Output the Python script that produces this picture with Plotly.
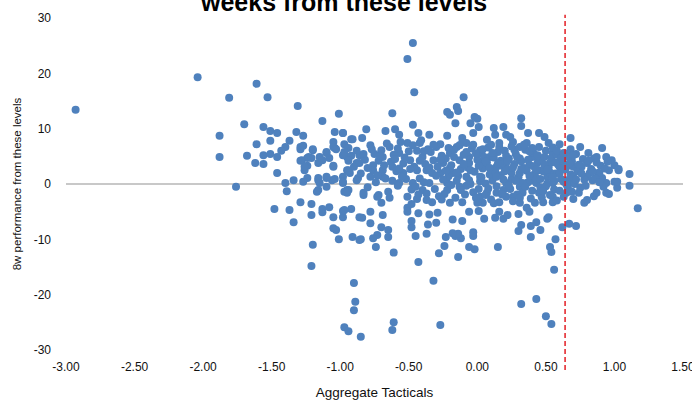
import plotly.graph_objects as go

# ---- data: (Aggregate Tacticals, 8w performance) ----
x_left = [-2.93, -2.04, -1.81, -1.88, -1.88, -1.76, -1.70, -1.61, -1.53, -1.56, -1.51, -1.46, -1.61, -1.51,
          -1.68, -1.62, -1.56, -1.56, -1.51, -1.46, -1.46, -1.31, -1.13, -1.01, -1.32, -1.27, -1.37, -1.40,
          -1.43, -1.20, -1.29, -1.28, -1.24, -1.24, -1.26, -1.24, -1.34, -1.40, -1.16, -1.15, -1.10, -1.04,
          -1.04, -0.98, -1.05, -1.13, -1.05, -1.16, -1.10, -1.06, -0.98, -0.95, -1.29, -1.27, -1.29, -1.23,
          -1.21, -1.26, -1.27, -1.20, -1.10, -1.08, -1.05, -1.03, -0.97, -0.92, -0.94, -0.98, -0.92, -0.94,
          -0.95, -0.93, -0.88, -0.87, -1.05, -1.04, -1.10, -1.16, -1.15, -1.16, -1.10, -0.98, -0.97, -0.94]
y_left = [13.4, 19.3, 15.6, 8.7, 4.9, -0.5, 10.8, 18.1, 15.7, 10.3, 9.6, 9.2, 7.2, 7.8,
          5.1, 3.8, 3.6, 5.2, 5.4, 4.9, 2.0, 14.1, 11.4, 12.7, 9.4, 8.7, 7.8, 6.7,
          6.0, 6.1, 6.3, 4.3, 3.3, 4.7, 2.5, 1.1, 0.7, 0.2, 3.8, 4.9, 5.8, 6.5,
          9.4, 9.2, 7.6, 4.3, 3.3, 0.7, 1.1, 0.7, 1.3, 4.9, 6.7, 6.9, 4.2, 4.9,
          4.7, 3.1, 0.4, 6.3, 5.6, 4.7, 6.7, 6.3, 7.2, 8.1, 6.5, 5.2, 5.1, 4.2,
          2.5, 2.0, 3.8, 1.1, 3.1, 0.9, 1.3, 1.1, 0.2, -1.1, -0.5, 0.2, -1.4, -1.1]

x_low = [-1.39, -1.48, -1.37, -1.34, -1.29, -1.21, -1.21, -1.20, -1.21, -1.17, -1.13, -1.13, -1.08, -1.05,
         -0.98, -1.05, -1.03, -1.01, -0.98, -0.92, -0.91, -0.95, -0.86, -0.86, -0.90, -0.89, -0.90, -0.97,
         -0.94, -0.85, -0.61, -0.62, -0.27, -0.32, -0.43, -0.61, -0.74, -0.28, -0.14, -0.24, -0.06, -0.02,
         0.15, 0.32, 0.43, 0.50, 0.54, 0.56, 0.54, 0.53, 0.57, 0.62, 0.67, 0.72, 1.17, 1.11, 1.11,
         0.39, 0.46, 0.30, 0.32, 0.39, 0.43, 0.51, 0.52, 0.13, 0.19, 0.30, 0.05, -0.03, -0.03, -0.12,
         -0.16, -0.14, -0.18, -0.23, -0.37, -0.45, -0.48, -0.48, -0.65, -0.65, -0.70, -0.73, -0.76, -0.85,
         -0.78, -0.84, -0.97, -0.78, -0.69, -0.51, -0.51, -0.43, -0.35, -0.29, -0.36, -0.30, -0.18, -0.11,
         -0.06, 0.01, 0.04, 0.00, -0.11, -0.20, -0.33, -0.44, -0.48, -0.64, -0.72, -0.83, -0.70, -0.22,
         0.16, 0.22, 0.38, 0.07, 0.21, 0.31, 0.36, 0.48, 0.55, 0.70, 0.78, 0.80, 0.85, 0.87, 0.75, 0.65,
         0.94, 0.96, 1.02, 1.00, 0.94, 0.91, 0.84, 0.82, 0.88, 1.03, 0.67]
y_low = [-1.3, -4.5, -4.7, -6.9, -3.3, -3.6, -5.6, -11.0, -14.8, -1.4, -5.1, -4.5, -4.2, -6.0,
         -6.0, -8.0, -8.3, -10.0, -4.9, -4.5, -9.6, -1.1, -10.1, -6.0, -17.9, -21.3, -22.8, -25.9,
         -26.6, -27.6, -25.0, -26.4, -25.5, -17.5, -14.1, -12.4, -11.4, -12.5, -13.2, -11.2, -11.4, -11.8,
         -11.4, -21.7, -20.8, -23.9, -25.3, -15.5, -12.3, -11.4, -10.0, -7.8, -7.2, -7.6, -4.4, -0.3, 1.8,
         -9.6, -8.3, -8.5, -7.4, -7.6, -6.9, -6.3, -6.0, -6.1, -6.3, -5.4, -6.3, -9.4, -8.7, -9.8,
         -9.4, -9.0, -8.9, -9.6, -9.0, -9.4, -7.8, -6.7, -9.6, -8.3, -7.8, -9.2, -9.8, -10.0,
         -7.1, -6.1, -4.7, -5.0, -5.6, -4.3, -5.0, -5.3, -5.5, -5.2, -7.3, -7.0, -6.4, -6.7,
         -5.0, -4.9, -3.4, -3.4, -3.3, -3.4, -3.3, -2.7, -3.6, -2.5, -2.0, -2.0, -3.4, -1.1,
         -5.0, -5.6, -5.0, -1.6, -2.3, -3.4, -4.3, -3.3, -3.3, -2.7, -3.4, -2.9, -2.2, -1.6, -0.7, -1.6,
         -1.6, -1.8, -0.7, 0.4, 0.2, 1.1, 0.7, 2.0, 2.0, 2.5, 0.2]

x_up = [-0.47, -0.51, -0.46, -0.10, -0.15, -0.14, -0.22, -0.20, -0.62, -0.47, -0.16, -0.02, 0.00, -0.05,
        0.01, 0.32, 0.32, 0.12, 0.19, 0.13, 0.21, 0.24, 0.37, 0.45, 0.49, 0.60, 0.68, 0.75, 0.81, 0.91,
        0.94, 0.87, 1.00, 1.03, 1.02, 0.89, 0.80, 0.76, 0.70, -0.81, -0.84, -0.91, -0.98, -0.67, -0.60,
        -0.57, -0.43, -0.35, -0.27, -0.22, -0.11, -0.03, 0.07, -0.64, -0.51, -0.42, -0.75, -0.86, -0.97,
        -0.94, -0.86, -0.76, -0.69, -0.62, -0.54, -0.49, -0.69, -0.57, -0.30, -0.15, -0.08, 0.02, 0.16,
        0.26, 0.31, 0.36, 0.45, 0.55, 0.67, 0.60, 0.53, 0.45, 0.40, 0.51, 0.40, 0.31, 0.21, 0.14, 0.09,
        0.02, -0.06, -0.13, -0.20, -0.25, -0.32, -0.40, -0.37, -0.44, -0.27, -0.18, -0.08, 0.02, 0.11,
        0.21, 0.31, 0.43, 0.55, 0.65, -0.13, -0.22, -0.35, -0.47, -0.57, -0.69, -0.78, -0.88, -0.98,
        -0.95, -0.83, -0.73, -0.51, -0.37, 0.02, 0.14, 0.26, 0.45, 0.55]
y_up = [25.5, 22.6, 16.6, 15.7, 13.9, 13.2, 13.0, 12.5, 12.8, 10.7, 11.0, 12.1, 11.8, 11.0,
        10.3, 11.9, 10.5, 10.1, 10.3, 8.9, 8.9, 8.5, 9.2, 9.2, 8.5, 7.2, 8.3, 6.7, 5.6, 6.5,
        4.9, 4.9, 3.4, 2.7, 0.4, 2.0, 1.3, 3.1, 3.1, 9.9, 8.3, 8.1, 9.2, 9.6, 9.9,
        8.9, 9.2, 8.9, 7.2, 8.7, 8.3, 9.2, 8.0, 6.7, 7.4, 7.4, 5.4, 5.2, 5.8,
        2.5, 3.8, 3.4, 2.5, 3.1, 2.0, 4.3, 4.9, 5.6, 6.7, 6.7, 7.4, 6.1, 6.7,
        7.6, 6.7, 7.4, 6.7, 5.6, 5.6, 3.1, 3.8, 2.5, 4.9, 1.3, 0.7, 2.0, 3.8, 3.1, 4.9,
        3.8, 4.9, 4.3, 5.6, 3.8, 4.3, 4.9, 2.5, 2.5, 2.0, 2.0, 1.3, 1.3, 0.7,
        0.2, -0.5, 0.2, 0.2, 0.7, -0.5, 0.2, 0.2, 0.2, 0.2, 1.3, 1.3, 0.7, 0.4,
        -1.6, -1.6, -2.3, -2.3, -2.9, -2.3, -1.6, -2.3, -1.6, -2.3]

x_core = [-0.42, -0.38, -0.34, -0.31, -0.29, -0.26, -0.24, -0.21, -0.19, -0.17, -0.15, -0.12, -0.10, -0.09,
          -0.07, -0.05, -0.04, -0.02, 0.00, 0.01, 0.03, 0.04, 0.06, 0.07, 0.08, 0.10, 0.11, 0.12, 0.14,
          0.15, 0.17, 0.18, 0.19, 0.20, 0.22, 0.23, 0.25, 0.26, 0.27, 0.28, 0.30, 0.32, 0.33, 0.34, 0.35,
          0.37, 0.38, 0.39, 0.41, 0.42, 0.44, 0.46, 0.47, 0.48, 0.50, 0.51, 0.52, 0.54, 0.56, 0.57, 0.58,
          0.59, 0.61, 0.62, 0.63, 0.64, 0.66, 0.68, 0.69, 0.71, 0.72, 0.73, 0.74, 0.77, 0.78, 0.80, 0.83,
          0.85, 0.86, 0.90, 0.92, 0.96, 0.98,
          -0.40, -0.36, -0.33, -0.28, -0.25, -0.23, -0.20, -0.16, -0.14, -0.11, -0.08, -0.06, -0.03, -0.01,
          0.02, 0.05, 0.06, 0.09, 0.10, 0.13, 0.16, 0.17, 0.19, 0.21, 0.24, 0.25, 0.27, 0.29, 0.31, 0.33,
          0.36, 0.38, 0.40, 0.41, 0.43, 0.45, 0.47, 0.49, 0.50, 0.53, 0.55, 0.56, 0.58, 0.60, 0.61, 0.63,
          0.65, 0.66, 0.68, 0.70,
          -0.90, -0.88, -0.85, -0.82, -0.80, -0.78, -0.76, -0.74, -0.72, -0.70, -0.67, -0.65, -0.63, -0.61,
          -0.59, -0.58, -0.56, -0.54, -0.52, -0.50, -0.48, -0.46, -0.44, -0.43, -0.41, -0.39]
y_core = [1.0, 3.6, 5.8, -0.9, 3.1, 5.1, -1.8, 1.4, 3.4, 6.2, 0.6, 2.7, 5.3, -1.9,
          3.0, 0.0, 6.4, 2.2, 4.4, -0.9, 5.5, 2.8, 0.1, 3.9, 6.6, -2.8, 2.1, 4.8, -0.4,
          5.8, 1.6, 3.3, -1.1, 6.0, 2.6, 4.6, 0.9, -3.1, 3.6, 5.4, 1.2, 4.1, -1.6, 2.9, 6.2,
          0.3, 3.5, -2.6, 5.6, 1.9, 3.9, -0.6, 4.6, 2.3, 6.0, 0.1, 3.0, 4.7, -1.0, 1.9, 5.3,
          3.5, 0.9, 4.2, -2.3, 2.6, 5.0, 1.7, 4.1, 0.0, 5.4, 2.3, -1.6, 4.5, 0.8, 3.8, 2.7,
          4.6, 1.0, 3.3, -0.5, 2.5, 4.3,
          -1.1, 6.3, 2.0, -2.2, 0.8, 4.6, 2.9, -2.5, 1.5, 7.5, -0.3, 3.8, -1.5, 5.5,
          0.5, 4.9, -2.0, 1.7, 7.1, 2.4, -3.3, 4.2, 0.8, 5.1, -0.9, 2.0, 6.2, -1.9, 4.6, 0.2,
          2.4, 5.9, -1.2, 3.2, 1.0, 4.3, -2.4, 3.5, -0.4, 2.1, 6.6, 0.5, -3.0, 2.0, 4.6, 0.4,
          3.1, -0.6, 6.3, 1.2,
          3.1, 6.0, 1.9, 4.4, -0.6, 7.0, 2.5, 0.3, 4.2, 6.1, 1.0, -1.4, 4.0, 5.3,
          2.3, -0.3, 7.6, 3.7, 0.9, 5.9, -1.0, 3.1, 6.0, -1.9, 7.9, 0.3]

x_core2 = [-0.58, -0.55, -0.53, -0.49, -0.47, -0.45, -0.42, -0.39, -0.37, -0.35, -0.32, -0.30, -0.27, -0.26,
           -0.23, -0.21, -0.19, -0.17, -0.15, -0.13, -0.12, -0.10, -0.08, -0.06, -0.05, -0.03, -0.01, 0.01,
           0.03, 0.04, 0.06, 0.08, 0.09, 0.11, 0.12, 0.14, 0.15, 0.16, 0.18, 0.20, 0.22, 0.23, 0.25, 0.26,
           0.28, 0.29, 0.31, 0.32, 0.34, 0.35, 0.37, 0.38, 0.40, 0.42, 0.43, 0.44, 0.46, 0.48, 0.49, 0.51,
           0.52, 0.53, 0.55, 0.57, 0.58, 0.60, 0.62, 0.63, 0.65, 0.67, 0.69, 0.70, 0.72, 0.74, 0.76, 0.79,
           0.81, 0.84, 0.87, 0.89, 0.93, 0.95,
           -0.83, -0.80, -0.77, -0.73, -0.71, -0.68, -0.66, -0.62, -0.60, -0.57]
y_core2 = [6.4, 1.3, 4.8, 2.7, 7.0, -0.5, 4.2, 5.9, -1.7, 3.0, 7.1, 1.5, 4.4, -2.8,
           2.4, 6.5, -0.2, 4.9, 2.1, 7.0, -1.1, 3.6, 5.8, 0.7, 2.5, 7.1, -2.5, 3.3,
           1.2, 6.3, 4.0, -0.8, 2.9, 5.6, -3.5, 1.3, 3.7, 7.4, -1.9, 2.3, 4.2, -0.3, 6.8, 3.0,
           0.6, 4.9, -2.5, 2.7, 7.1, -0.5, 4.4, 1.5, 6.5, -3.4, 2.6, 5.2, 0.9, -1.3, 4.9, 2.6,
           7.4, -2.0, 1.2, 3.9, 6.0, -1.2, 2.8, 5.6, -0.1, 3.7, -1.4, 5.2, 0.8, 3.5, 1.9, -0.3,
           4.2, 2.3, 3.9, 0.3, 2.8, 4.0,
           5.4, 2.9, 6.3, 1.6, 5.1, 3.4, 7.3, 0.6, 4.5, 2.8]

x_ticks = [-3.0, -2.5, -2.0, -1.5, -1.0, -0.5, 0.0, 0.5, 1.0, 1.5]
y_ticks = [-30, -20, -10, 0, 10, 20, 30]
threshold = 0.64

x_all = x_left + x_low + x_up + x_core + x_core2
y_all = y_left + y_low + y_up + y_core + y_core2

font_main = "Liberation Sans, Arial, sans-serif"

fig = go.Figure()
fig.add_trace(go.Scatter(
    x=x_all, y=y_all, mode="markers",
    marker=dict(color="#4f81bd", size=8, line=dict(width=0)),
    showlegend=False, hoverinfo="skip",
))

fig.add_shape(type="line", xref="x", yref="paper",
              x0=threshold, x1=threshold, y0=-0.06, y1=1.01,
              line=dict(color="#e31e24", width=1.5, dash="5px,3px"))

fig.add_annotation(text="<b>weeks from these levels</b>", xref="paper", yref="paper",
                   x=0.45, y=1.0, xanchor="center", yanchor="bottom", showarrow=False,
                   font=dict(family=font_main, size=25, color="#000000"))

fig.update_layout(
    width=692, height=401,
    margin=dict(l=66, r=9, t=18, b=51),
    paper_bgcolor="white", plot_bgcolor="white",
    font=dict(family=font_main, size=12, color="#111111"),
)
fig.update_xaxes(
    range=[-3.0, 1.5], tickvals=x_ticks, ticktext=[f"{v:.2f}" for v in x_ticks],
    showgrid=False, zeroline=False, showline=False, ticks="",
    title=dict(text="Aggregate Tacticals", standoff=14, font=dict(size=13.5)),
    automargin=False, ticklabelstandoff=8, ticklabeloverflow="allow",
)
fig.update_yaxes(
    range=[-30, 30], tickvals=y_ticks, ticktext=[str(v) for v in y_ticks],
    showgrid=False, zeroline=True, zerolinecolor="#c8c8c8", zerolinewidth=1.5,
    showline=False, ticks="",
    title=dict(text="8w performance from these levels", standoff=9, font=dict(size=11.5)),
    automargin=False, ticklabelstandoff=14,
)

fig.write_html("out.html")
